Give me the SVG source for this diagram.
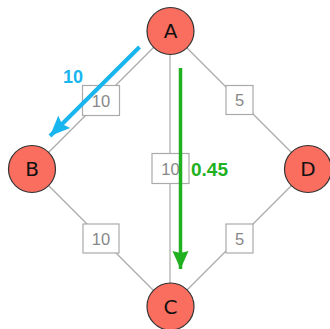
<svg xmlns="http://www.w3.org/2000/svg" width="330" height="329" viewBox="0 0 330 329">
<defs>
<style>
.edge{stroke:#aaaaaa;stroke-width:1.2;fill:none}
.lbox{fill:#ffffff;stroke:#aaaaaa;stroke-width:1.2}
.ltxt{font-family:"Liberation Sans",Arial,sans-serif;font-size:16.5px;fill:#888888;text-anchor:middle}
.node circle{fill:#fa6e5f;stroke:#333333;stroke-width:1.2}
.node text{font-family:"DejaVu Sans","Liberation Sans",sans-serif;font-size:20px;fill:#111111;text-anchor:middle}
</style>
<marker id="hb" markerUnits="userSpaceOnUse" markerWidth="24" markerHeight="20" refX="20" refY="10" orient="auto" overflow="visible">
<path d="M20,10 L0,1.5 L3,10 L0,18.5 Z" fill="#19b5ef"/>
</marker>
<marker id="hg" markerUnits="userSpaceOnUse" markerWidth="24" markerHeight="20" refX="18" refY="10" orient="auto" overflow="visible">
<path d="M18,10 L0,2 L2,10 L0,18 Z" fill="#20b020"/>
</marker>
</defs>
<rect width="330" height="329" fill="#ffffff"/>
<g id="connectors">
<line class="edge" x1="170" y1="31" x2="32" y2="169"/>
<line class="edge" x1="170" y1="31" x2="308" y2="169"/>
<line class="edge" x1="170" y1="31" x2="170" y2="307"/>
<line class="edge" x1="32" y1="169" x2="170" y2="307"/>
<line class="edge" x1="308" y1="169" x2="170" y2="307"/>
<g id="label-AB"><rect class="lbox" x="82.5" y="85.5" width="37" height="30"/><text class="ltxt" x="101" y="106.5">10</text></g>
<g id="label-AD"><rect class="lbox" x="226" y="85.5" width="27" height="29"/><text class="ltxt" x="239.5" y="106">5</text></g>
<g id="label-AC"><rect class="lbox" x="152" y="153.5" width="37" height="30"/><text class="ltxt" x="170.5" y="174.5">10</text></g>
<g id="label-BC"><rect class="lbox" x="83" y="224" width="36" height="29"/><text class="ltxt" x="101" y="244.5">10</text></g>
<g id="label-DC"><rect class="lbox" x="226" y="224" width="27" height="29"/><text class="ltxt" x="239.5" y="244.5">5</text></g>
</g>
<g id="flow-AB">
<line x1="139.5" y1="47" x2="50" y2="136" stroke="#19b5ef" stroke-width="4" marker-end="url(#hb)"/>
<text x="63" y="83" font-family="Liberation Sans,Arial,sans-serif" font-weight="bold" font-size="18" fill="#19b5ef">10</text>
</g>
<g id="flow-AC">
<line x1="180.5" y1="68" x2="180.5" y2="269" stroke="#20b020" stroke-width="3.5" marker-end="url(#hg)"/>
<text x="191" y="176" font-family="Liberation Sans,Arial,sans-serif" font-weight="bold" font-size="19" fill="#20b020">0.45</text>
</g>
<g id="node-A" class="node"><circle cx="170.5" cy="31" r="23.5"/><text x="170.5" y="38">A</text></g>
<g id="node-B" class="node"><circle cx="32" cy="169" r="23.5"/><text x="32" y="176">B</text></g>
<g id="node-C" class="node"><circle cx="170.5" cy="306.5" r="23.5"/><text x="170.5" y="313.5">C</text></g>
<g id="node-D" class="node"><circle cx="308" cy="169" r="23.5"/><text x="308" y="176">D</text></g>
</svg>
